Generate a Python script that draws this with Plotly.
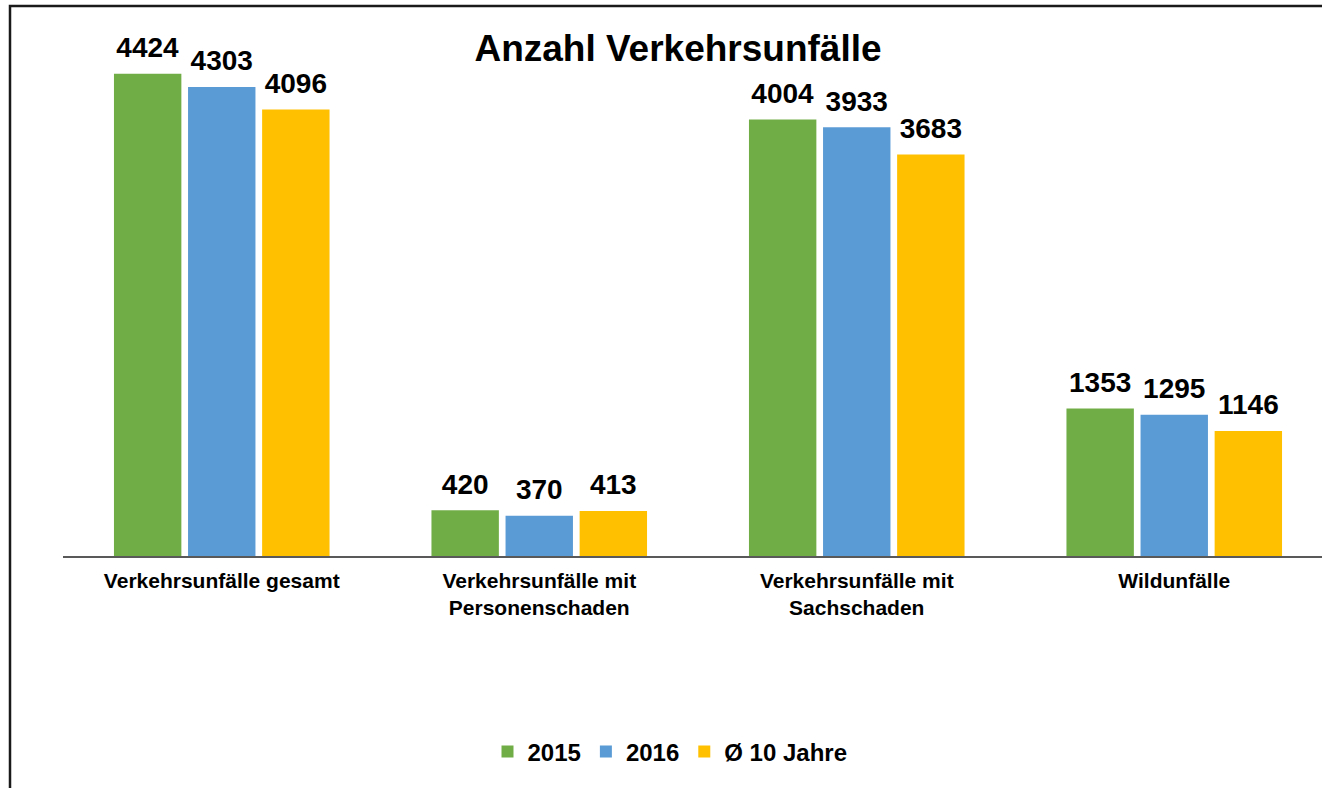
import plotly.graph_objects as go

categories = ["Verkehrsunfälle gesamt", "Verkehrsunfälle mit<br>Personenschaden",
              "Verkehrsunfälle mit<br>Sachschaden", "Wildunfälle"]
series_names = ["2015", "2016", "Ø 10 Jahre"]
values_2015 = [4424, 420, 4004, 1353]
values_2016 = [4303, 370, 3933, 1295]
values_avg = [4096, 413, 3683, 1146]
colors = ["#70AD47", "#5B9BD5", "#FFC000"]

FONT = "Liberation Sans, Arial, sans-serif"
W, H = 1322, 788
L, R, T, B = 63, 0, 11, 232
plot_w = W - L - R
plot_h = H - T - B
cat_px = 317.5
x_hi = -0.5 + plot_w / cat_px

fig = go.Figure()
for name, vals, col in zip(series_names, [values_2015, values_2016, values_avg], colors):
    fig.add_trace(go.Bar(
        x=categories, y=vals, name=name, marker=dict(color=col, line=dict(width=0)),
        text=[f"{v}" for v in vals],
        texttemplate="<span style='font-size:28px'>%{text}</span><br> ",
        textposition="outside", constraintext="none", cliponaxis=False,
        textfont=dict(family=FONT, size=9, color="#000000", weight="bold"),
    ))

fig.update_layout(
    width=W, height=H,
    margin=dict(l=L, r=R, t=T, b=B, pad=0),
    paper_bgcolor="white", plot_bgcolor="white",
    barmode="group", bargap=0.3, bargroupgap=0.09,
    title=dict(text="Anzahl Verkehrsunfälle", x=678 / W, xref="container", xanchor="center",
               y=1 - 48 / H, yref="container", yanchor="middle",
               font=dict(family=FONT, size=37, color="#000000", weight="bold")),
    xaxis=dict(range=[-0.5, x_hi], showgrid=False, showline=True, linecolor="#595959",
               linewidth=1.5, ticks="", ticklabelstandoff=5,
               tickfont=dict(family=FONT, size=21, color="#000000", weight="bold")),
    yaxis=dict(range=[0, 5000], visible=False, showgrid=False),
    legend=dict(orientation="h", x=(670 - L) / plot_w, xanchor="center",
                y=(556 - 752) / plot_h, yanchor="middle", itemwidth=30,
                font=dict(family=FONT, size=24, color="#000000", weight="bold")),
    showlegend=True,
)

fig.add_shape(type="rect", xref="paper", yref="paper",
              x0=(10 - L) / plot_w, x1=1.2, y0=-0.8, y1=(556 - 6) / plot_h,
              line=dict(color="#1a1a1a", width=2.5), fillcolor="rgba(0,0,0,0)")

fig.write_html("out.html", config={"displayModeBar": False},
               post_script="document.body.style.margin='0';document.body.style.overflow='hidden';")
